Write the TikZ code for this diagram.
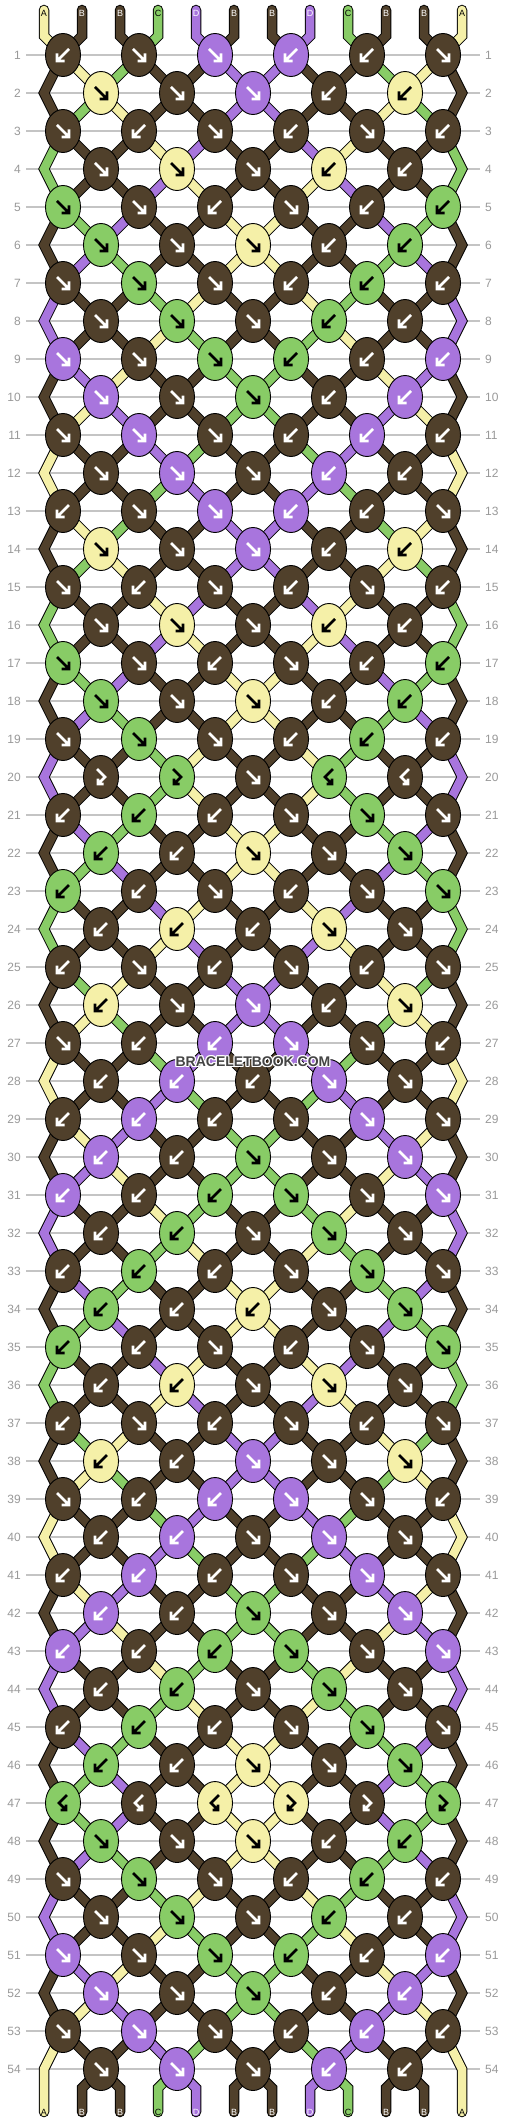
\documentclass[tikz,border=0pt]{standalone}
\usepackage{fontspec}
\setmainfont{Liberation Sans}
\usetikzlibrary{shapes.geometric}
\definecolor{cA}{HTML}{F5F0A8}
\definecolor{cB}{HTML}{50402B}
\definecolor{cC}{HTML}{88CC66}
\definecolor{cD}{HTML}{A875DD}
\colorlet{tA}{black}\colorlet{tB}{white}\colorlet{tC}{black}\colorlet{tD}{white}
\definecolor{numgray}{HTML}{999999}
\definecolor{linegray}{HTML}{C4C4C4}
\definecolor{wmark}{HTML}{444444}
\tikzset{
  knot/.style={ellipse, draw=black, line width=0.9pt, minimum width=35pt, minimum height=43pt, inner sep=0pt},
  strout/.style={line width=10.5pt, draw=black, line cap=round, line join=miter},
  strin/.style={line width=8.5pt, line cap=round, line join=miter},
  rownum/.style={text=numgray, font=\fontsize{12}{12}\selectfont, inner sep=0pt},
  gridline/.style={draw=linegray, line width=1.2pt},
  lab/.style={font=\fontsize{9}{9}\selectfont, inner sep=0pt},
  arr/.style={line width=2.6pt, line cap=butt, line join=miter},
  wm/.style={font=\fontsize{14}{14}\selectfont\bfseries, inner sep=0pt},
}
\newcommand\knotarrow[3]{%
  \begin{scope}[shift={(#1.center)}]
  \if R#2\relax\draw[arr,draw=#3] (-6,-6) -- (4.5,4.5) (6,-1.5) -- (6,6) -- (-1.5,6);\fi
  \if L#2\relax\draw[arr,draw=#3] (6,-6) -- (-4.5,4.5) (-6,-1.5) -- (-6,6) -- (1.5,6);\fi
  \if F#2\relax\draw[arr,draw=#3] (-4,-8) -- (4,0) -- (-2,6) (-3,1.5) -- (-3,7) -- (2.5,7);\fi
  \if G#2\relax\draw[arr,draw=#3] (4,-8) -- (-4,0) -- (2,6) (3,1.5) -- (3,7) -- (-2.5,7);\fi
  \end{scope}}
\def\allrows{%
{L,R,R,L,L,R},{R,R,R,L,L},{R,L,R,L,R,L},{R,R,R,L,L},{R,R,L,R,L,L},{R,R,R,L,L},%
{R,R,R,L,L,L},{R,R,R,L,L},{R,R,R,L,L,L},{R,R,R,L,L},{R,R,R,L,L,L},{R,R,R,L,L},%
{L,R,R,L,L,R},{R,R,R,L,L},{R,L,R,L,R,L},{R,R,R,L,L},{R,R,L,R,L,L},{R,R,R,L,L},%
{R,R,R,L,L,L},{F,F,R,G,G},{L,L,L,R,R,R},{L,L,R,R,R},{L,L,R,L,R,R},{L,L,L,R,R},%
{L,R,L,R,L,R},{L,R,R,L,R},{R,L,L,R,R,L},{L,L,L,R,R},{L,L,L,R,R,R},{L,L,R,R,R},%
{L,L,L,R,R,R},{L,L,R,R,R},{L,L,L,R,R,R},{L,L,L,R,R},{L,L,R,L,R,R},{L,L,R,R,R},%
{L,R,L,R,L,R},{L,L,R,R,R},{R,L,L,R,R,L},{L,L,R,R,R},{L,L,L,R,R,R},{L,L,R,R,R},%
{L,L,L,R,R,R},{L,L,R,R,R},{L,L,L,R,R,R},{L,L,R,R,R},{G,G,G,F,F,F},{R,R,R,L,L},%
{R,R,R,L,L,L},{R,R,R,L,L},{R,R,R,L,L,L},{R,R,R,L,L},{R,R,R,L,L,L},{R,R,R,L,L}}
\def\startcols{A,B,B,C,D,B,B,D,C,B,B,A}
\begin{document}
\begin{tikzpicture}[x=1pt,y=-1pt]
\useasboundingbox (0,0) rectangle (506,2124);
\fill[white] (0,0) rectangle (506,2124);
\foreach \rr in {1,...,54}{
  \pgfmathtruncatemacro\yy{17+38*\rr}
  \coordinate (gl-\rr) at (26,\yy); \coordinate (gr-\rr) at (480,\yy);
  \draw[gridline] (gl-\rr) -- (gr-\rr);
  \node[rownum, anchor=east] (nl-\rr) at (21,\yy) {\rr};
  \node[rownum, anchor=west] (nr-\rr) at (485,\yy) {\rr};
}
% initial strings
\foreach \col [count=\ii] in \startcols {
  \pgfmathtruncatemacro\xx{44+38*(\ii-1)}
  \expandafter\xdef\csname S\ii\endcsname{\col}
  \coordinate (t-\ii) at (\xx,10);
  \coordinate (tb-\ii) at (\xx,36);
  \expandafter\xdef\csname P\ii\endcsname{(t-\ii) -- (tb-\ii)}
}
% pass 1: strings
\foreach \codes [count=\rr] in \allrows {
  \pgfmathtruncatemacro\yy{17+38*\rr}
  \foreach \cc [count=\kk] in \codes {
    \ifodd\rr
      \pgfmathtruncatemacro\pp{2*\kk-1}
      \pgfmathtruncatemacro\xx{63+76*(\kk-1)}
    \else
      \pgfmathtruncatemacro\pp{2*\kk}
      \pgfmathtruncatemacro\xx{101+76*(\kk-1)}
    \fi
    \pgfmathtruncatemacro\qq{\pp+1}
    \edef\colL{\csname S\pp\endcsname}
    \edef\colR{\csname S\qq\endcsname}
    \edef\kc{\colR}
    \if R\cc\relax\edef\kc{\colL}\fi
    \if F\cc\relax\edef\kc{\colL}\fi
    \expandafter\xdef\csname K-\rr-\kk\endcsname{\kc}
    \coordinate (kc-\rr-\kk) at (\xx,\yy);
    \edef\tmp{%
      \noexpand\draw[strout] \csname P\pp\endcsname -- (kc-\rr-\kk);
      \noexpand\draw[strin,draw=c\colL] \csname P\pp\endcsname -- (kc-\rr-\kk);
      \noexpand\draw[strout] \csname P\qq\endcsname -- (kc-\rr-\kk);
      \noexpand\draw[strin,draw=c\colR] \csname P\qq\endcsname -- (kc-\rr-\kk);}%
    \tmp
    \expandafter\xdef\csname P\pp\endcsname{(kc-\rr-\kk)}
    \expandafter\xdef\csname P\qq\endcsname{(kc-\rr-\kk)}
    \if R\cc\relax
      \expandafter\xdef\csname S\pp\endcsname{\colR}
      \expandafter\xdef\csname S\qq\endcsname{\colL}
    \fi
    \if L\cc\relax
      \expandafter\xdef\csname S\pp\endcsname{\colR}
      \expandafter\xdef\csname S\qq\endcsname{\colL}
    \fi
  }
  \ifodd\rr\else
    \coordinate (e-\rr-1) at (44,\yy);
    \coordinate (e-\rr-12) at (462,\yy);
    \expandafter\xdef\csname P1\endcsname{\csname P1\endcsname\space -- (e-\rr-1)}
    \expandafter\xdef\csname P12\endcsname{\csname P12\endcsname\space -- (e-\rr-12)}
  \fi
}
% bottom ends
\foreach \ii in {1,...,12}{
  \pgfmathtruncatemacro\xx{44+38*(\ii-1)}
  \coordinate (bb-\ii) at (\xx,2088);
  \coordinate (bt-\ii) at (\xx,2112);
  \edef\col{\csname S\ii\endcsname}
  \edef\tmp{\noexpand\draw[strout] \csname P\ii\endcsname -- (bb-\ii) -- (bt-\ii);
    \noexpand\draw[strin, draw=c\col] \csname P\ii\endcsname -- (bb-\ii) -- (bt-\ii);}
  \tmp
  \edef\tcol{t\col}
  \node[lab, text=\tcol] (bl-\ii) at (\xx,2112) {\col};
}
% top labels
\foreach \col [count=\ii] in \startcols {
  \pgfmathtruncatemacro\xx{44+38*(\ii-1)}
  \node[lab, text=t\col] (tl-\ii) at (\xx,13) {\col};
}
% pass 2: knots
\foreach \codes [count=\rr] in \allrows {
  \foreach \cc [count=\kk] in \codes {
    \edef\kc{\csname K-\rr-\kk\endcsname}
    \edef\kfill{c\kc}\edef\karr{t\kc}
    \node[knot, fill=\kfill] (kn-\rr-\kk) at (kc-\rr-\kk) {};
    \knotarrow{kn-\rr-\kk}{\cc}{\karr}
  }
}
% watermark
\foreach \dx/\dy [count=\hh] in {-1/0,1/0,0/-1,0/1,-1/-1,1/1,-1/1,1/-1}{
  \node[wm, text=white] (wmh-\hh) at (253+\dx,1062+\dy) {BRACELETBOOK.COM};
}
\node[wm, text=wmark] (wm) at (253,1062) {BRACELETBOOK.COM};
\end{tikzpicture}
\end{document}
